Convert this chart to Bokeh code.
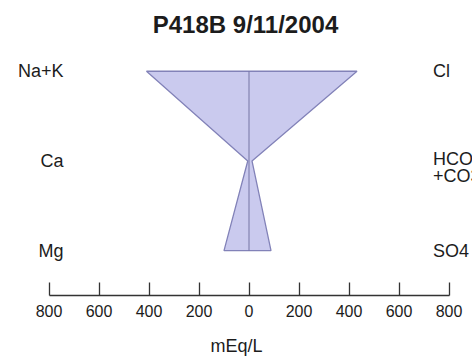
from bokeh.plotting import figure
from bokeh.models import Range1d, FixedTicker, Label
from bokeh.core.properties import value
from bokeh.embed import file_html
from bokeh.resources import INLINE

# ---- data (mEq/L) ----
cation_names = ["Na+K", "Ca", "Mg"]
anion_names = ["Cl", "HCO3\n+CO3", "SO4"]
cations = [410, 5, 100]
anions = [432, 12, 88]
rows = [0, 1, 2]
tick_values = [-800, -600, -400, -200, 0, 200, 400, 600, 800]
tick_labels = ["800", "600", "400", "200", "0", "200", "400", "600", "800"]
title_text = "P418B 9/11/2004"
axis_title = "mEq/L"

FONT = "Liberation Sans"
TXT = "#1c1c1c"

p = figure(width=472, height=363, output_backend="svg", toolbar_location=None,
           x_range=Range1d(-994, 894), y_range=Range1d(2.5, -0.789),
           y_axis_location=None, min_border_left=0, min_border_right=0,
           min_border_top=0, min_border_bottom=68)
p.grid.visible = False
p.outline_line_color = None
p.background_fill_color = "white"
p.border_fill_color = "white"

# polygon: cations to the left (negative), anions to the right
xs = [-c for c in cations] + [a for a in reversed(anions)]
ys = list(rows) + list(reversed(rows))
p.patch(xs, ys, fill_color="#cacaee", line_color="#8282b8", line_width=1.3)
p.segment(x0=[0], y0=[rows[0]], x1=[0], y1=[rows[-1]], line_color="#7474a4", line_width=1)

# row labels
p.text(x=[-742] * len(rows), y=rows, text=cation_names, text_align="right",
       text_baseline="middle", text_font=value(FONT), text_font_size=value("18px"),
       text_color=TXT)
p.text(x=[736] * len(rows), y=rows, text=anion_names, text_align="left",
       text_baseline="middle", text_font=value(FONT), text_font_size=value("18px"),
       text_color=TXT, text_line_height=0.85, y_offset=[0, 7, 0])

# title
p.add_layout(Label(x=-14, y=-0.52, text=title_text, text_align="center",
                   text_baseline="middle", text_font=FONT, text_font_size="24px",
                   text_font_style="bold", text_color=TXT))

ax = p.xaxis[0]
ax.ticker = FixedTicker(ticks=tick_values)
ax.major_label_overrides = {v: l for v, l in zip(tick_values, tick_labels)}
ax.bounds = (tick_values[0], tick_values[-1])
ax.major_tick_in = 13
ax.major_tick_out = 0
ax.minor_tick_line_color = None
ax.axis_line_width = 1.5
ax.axis_line_color = "#333333"
ax.major_tick_line_color = "#333333"
ax.major_tick_line_width = 1.3
ax.major_label_text_font = FONT
ax.major_label_text_font_size = "16px"
ax.major_label_text_color = TXT
ax.major_label_standoff = 9
ax.axis_label = axis_title
ax.axis_label_text_font = FONT
ax.axis_label_text_font_size = "18px"
ax.axis_label_text_font_style = "normal"
ax.axis_label_text_color = TXT
ax.axis_label_standoff = 16

open("out.html", "w").write(file_html(p, INLINE))
